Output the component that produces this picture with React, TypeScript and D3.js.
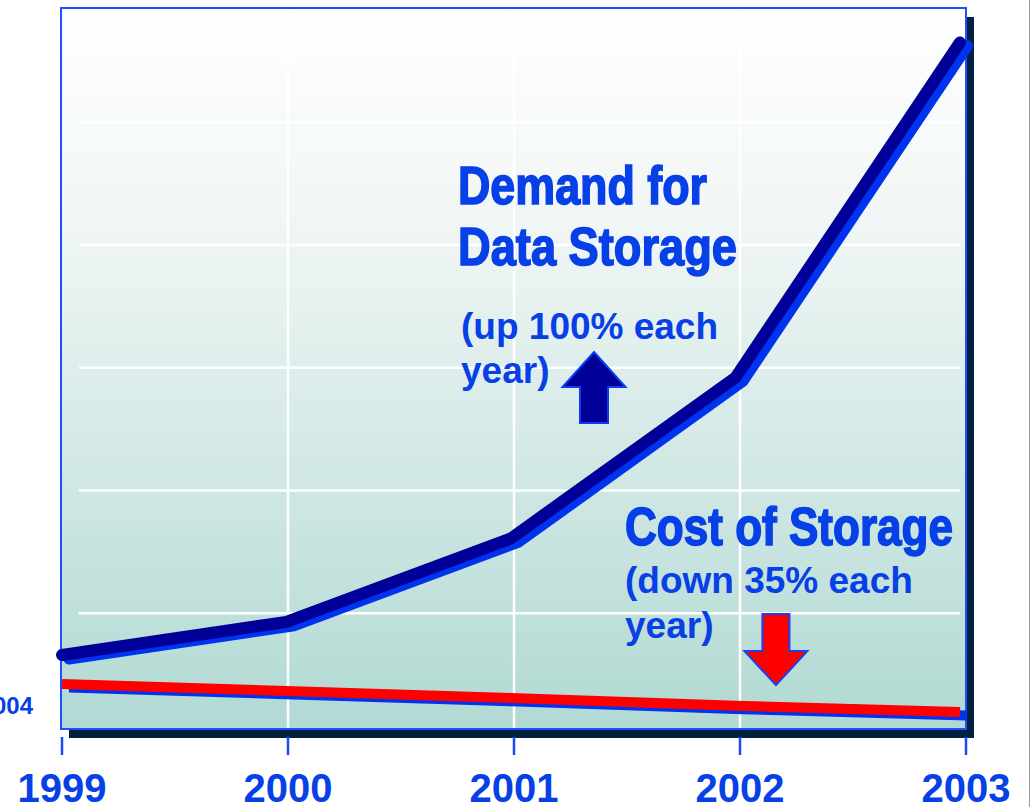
import React from 'react';
import * as d3 from 'd3';

// ---- data ----
const years = [1999, 2000, 2001, 2002, 2003];
const yearLabels = ['1999', '2000', '2001', '2002', '2003'];
const demand = [0.66, 0.93, 1.61, 2.92, 5.65];
const cost = [0.424, 0.367, 0.31, 0.247, 0.195];
const gridValues = [1, 2, 3, 4, 5];
const innerGridYears = [2000, 2001, 2002];
const yLabelText = '0.004';
const yLabelValue = 0.18;

const W = 1032;
const H = 807;
const plot = { left: 61, right: 966, top: 8, bottom: 729 };

const xTick = d3.scaleLinear().domain([1999, 2003]).range([62, 966]);
const xLine = d3.scaleLinear().domain([1999, 2003]).range([62, 960]);
const y = d3.scaleLinear().domain([0, 6]).range([736, -0.5]);

const BLUE_TXT = '#0640e6';
const NAVY = '#000099';
const SHADOW_BLUE = '#0033ee';

type Pt = [number, number];
const lineGen = d3.line<Pt>().x((d) => d[0]).y((d) => d[1]);

const demandPts: Pt[] = years.map((yr, i) => [xLine(yr), y(demand[i])]);
const costPts: Pt[] = years.map((yr, i) => [xLine(yr), y(cost[i])]);

const shift = (pts: Pt[], dx: number, dy: number): Pt[] => pts.map((p) => [p[0] + dx, p[1] + dy]);

function upArrow(tx: number, ty: number) {
  const hw = 31.5, hh = 35, sw = 14, sl = 36;
  return `M${tx},${ty} L${tx + hw},${ty + hh} L${tx + sw},${ty + hh} L${tx + sw},${ty + hh + sl} L${tx - sw},${ty + hh + sl} L${tx - sw},${ty + hh} L${tx - hw},${ty + hh} Z`;
}
function downArrow(tx: number, ty: number) {
  const hw = 31.5, hh = 34, sw = 13.5, sl = 37;
  return `M${tx},${ty} L${tx + hw},${ty - hh} L${tx + sw},${ty - hh} L${tx + sw},${ty - hh - sl} L${tx - sw},${ty - hh - sl} L${tx - sw},${ty - hh} L${tx - hw},${ty - hh} Z`;
}

export default function App() {
  const titleStyle: React.CSSProperties = {
    fontFamily: '"Liberation Sans", Arial, sans-serif',
    fontWeight: 'bold',
  };
  return (
    <svg
      width={W}
      height={H}
      style={{ position: 'absolute', left: 0, top: 0, background: '#ffffff' }}
    >
      <defs>
        <linearGradient id="bg" x1="0" y1="0" x2="0" y2="1">
          <stop offset="0" stopColor="#ffffff" />
          <stop offset="0.3" stopColor="#f0f6f5" />
          <stop offset="1" stopColor="#b1d9d3" />
        </linearGradient>
      </defs>
      {/* right edge line */}
      <line x1={1029.5} x2={1029.5} y1={0} y2={H} stroke="#9a9a9a" strokeWidth={1} />
      {/* shadow */}
      <rect x={plot.left + 8} y={plot.top + 9} width={plot.right - plot.left} height={plot.bottom - plot.top} fill="#00213f" />
      {/* plot area */}
      <rect x={plot.left} y={plot.top} width={plot.right - plot.left} height={plot.bottom - plot.top} fill="url(#bg)" />
      {/* grid */}
      {gridValues.map((v) => (
        <line key={'h' + v} x1={79} x2={960} y1={y(v)} y2={y(v)} stroke="#ffffff" strokeWidth={2.5} />
      ))}
      {innerGridYears.map((yr) => (
        <line key={'v' + yr} x1={xTick(yr)} x2={xTick(yr)} y1={plot.top + 2} y2={plot.bottom} stroke="#ffffff" strokeWidth={2.5} />
      ))}
      {/* border */}
      <rect x={plot.left} y={plot.top} width={plot.right - plot.left} height={plot.bottom - plot.top} fill="none" stroke="#1f50ff" strokeWidth={2} />

      {/* cost line */}
      <path d={lineGen(shift(costPts, 7, 3.5)) || ''} fill="none" stroke={SHADOW_BLUE} strokeWidth={10} strokeLinecap="butt" />
      <path d={lineGen(costPts) || ''} fill="none" stroke="#ff0000" strokeWidth={10} strokeLinecap="butt" />

      {/* demand line */}
      <path d={lineGen(shift(demandPts, 7, 3.5)) || ''} fill="none" stroke={SHADOW_BLUE} strokeWidth={12} strokeLinecap="round" strokeLinejoin="miter" />
      <path d={lineGen(demandPts) || ''} fill="none" stroke={NAVY} strokeWidth={12} strokeLinecap="round" strokeLinejoin="miter" />

      {/* arrows */}
      <path d={upArrow(xTick(2001.354), y(3.128))} fill={NAVY} stroke="#0a3cf0" strokeWidth={2} strokeLinejoin="miter" />
      <path d={downArrow(xTick(2002.159), y(0.415))} fill="#ff0000" stroke="#1a40f0" strokeWidth={2} strokeLinejoin="miter" />

      {/* annotation titles */}
      <g fill={BLUE_TXT} stroke={BLUE_TXT} strokeWidth={1.6} style={titleStyle} fontSize={53}>
        <text x={458} y={204} textLength={249} lengthAdjust="spacingAndGlyphs">Demand for</text>
        <text x={458} y={265} textLength={279} lengthAdjust="spacingAndGlyphs">Data Storage</text>
        <text x={625} y={545} textLength={328} lengthAdjust="spacingAndGlyphs">Cost of Storage</text>
      </g>
      <g fill={BLUE_TXT} style={titleStyle} fontSize={37}>
        <text x={461} y={339}>(up 100% each</text>
        <text x={461} y={383}>year)</text>
        <text x={625} y={593}>(down 35% each</text>
        <text x={625} y={638}>year)</text>
      </g>

      {/* y label */}
      <text x={33} y={y(yLabelValue) + 0} textAnchor="end" fill={BLUE_TXT} style={titleStyle} fontSize={24}>
        {yLabelText}
      </text>

      {/* x axis ticks */}
      {years.map((yr, i) => (
        <g key={yr}>
          <line x1={xTick(yr)} x2={xTick(yr)} y1={737} y2={755} stroke="#1a4cf5" strokeWidth={2.5} />
          <text x={xTick(yr)} y={802} textAnchor="middle" fill={BLUE_TXT} style={titleStyle} fontSize={40}>
            {yearLabels[i]}
          </text>
        </g>
      ))}
    </svg>
  );
}
